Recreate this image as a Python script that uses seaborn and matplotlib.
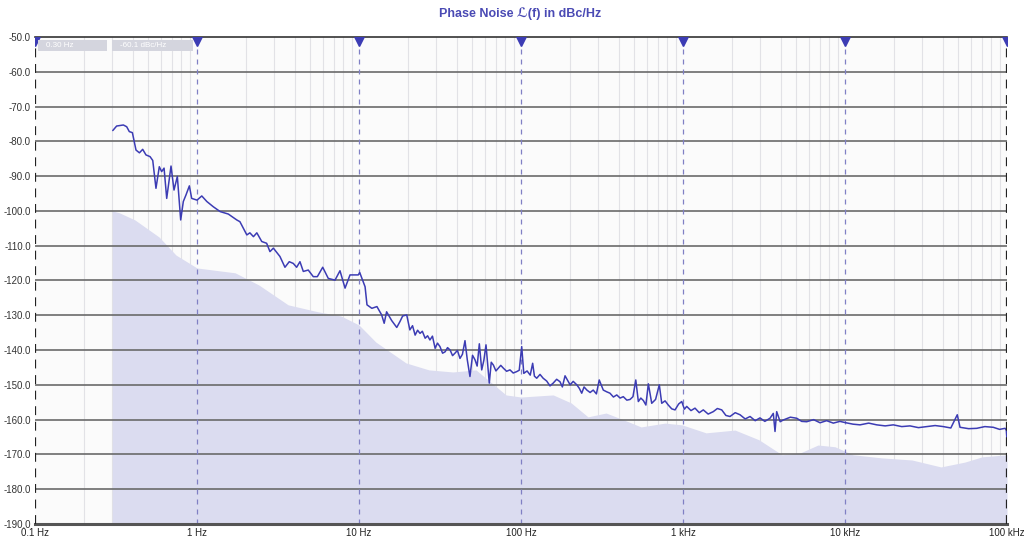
import numpy as np
import pandas as pd
import matplotlib
matplotlib.use("Agg")
import matplotlib.pyplot as plt
import matplotlib.patches as mpatches
import seaborn as sns

# measured phase noise trace (Hz, dBc/Hz)
freq_hz = [0.302, 0.319, 0.351, 0.368, 0.382, 0.399, 0.420, 0.441, 0.462, 0.484,
           0.513, 0.533, 0.558, 0.585, 0.605, 0.626, 0.650, 0.691, 0.721, 0.756,
           0.793, 0.823, 0.855, 0.897, 0.927, 1.00, 1.07, 1.15, 1.26, 1.39,
           1.56, 1.76, 1.84, 2.03, 2.12, 2.23, 2.34, 2.51, 2.69, 2.82,
           2.96, 3.25, 3.49, 3.71, 3.93, 4.12, 4.32, 4.53, 4.86, 5.22,
           5.53, 5.97, 6.46, 7.11, 7.63, 8.20, 8.80, 9.90, 10.1, 10.9,
           11.2, 12.0, 12.9, 13.8, 14.3, 14.8, 15.9, 17.1, 17.9, 18.6,
           19.7, 20.6, 21.4, 22.2, 23.0, 23.8, 24.6, 25.6, 26.5, 27.4,
           28.4, 29.5, 30.5, 31.6, 32.8, 34.0, 35.2, 36.5, 37.8, 39.1,
           40.5, 42.0, 43.5, 45.1, 46.6, 48.4, 50.2, 52.0, 53.6, 55.3,
           57.2, 59.0, 60.8, 62.2, 63.7, 65.5, 67.5, 70.0, 72.4, 75.0,
           77.8, 81.5, 85.5, 89.5, 94.0, 97.5, 101, 104, 109, 114,
           118, 121, 125, 131, 137, 144, 151, 158, 166, 174,
           180, 187, 201, 210, 221, 229, 237, 245, 255, 267,
           279, 292, 304, 322, 338, 354, 372, 390, 409, 428,
           450, 471, 491, 511, 530, 549, 569, 590, 611, 641,
           677, 714, 739, 775, 811, 852, 893, 940, 982, 1020,
           1054, 1120, 1186, 1260, 1334, 1430, 1538, 1630, 1734, 1840,
           1950, 2100, 2249, 2420, 2594, 2790, 2986, 3200, 3444, 3609,
           3698, 3787, 3980, 4159, 4600, 5035, 5400, 5803, 6400, 7015,
           7700, 8470, 9300, 10140, 11200, 12380, 14000, 15700, 17700, 19870,
           22400, 25180, 28400, 31930, 36000, 40460, 45000, 49320, 51290, 58000,
           65000, 73000, 82250, 90000, 97250, 99000, 100000]
noise_db = [-76.9, -75.6, -75.3, -75.8, -77.2, -77.5, -82.5, -83.3, -82.3, -83.9,
            -84.4, -85.5, -93.5, -87.3, -88.7, -87.7, -96.4, -87.1, -94.0, -90.1,
            -102.6, -97.3, -95.4, -92.8, -96.4, -96.9, -95.7, -97.3, -98.8, -100.2,
            -100.9, -102.6, -103.1, -106.9, -106.3, -107.4, -106.3, -108.8, -109.3, -111.7,
            -110.7, -113.1, -116.2, -114.6, -115.1, -116.2, -114.6, -117.4, -117.0, -118.9,
            -118.9, -116.2, -119.4, -119.9, -117.2, -122.2, -118.4, -118.4, -117.7, -121.8,
            -127.0, -128.0, -127.5, -129.9, -132.3, -129.0, -131.5, -133.5, -131.8, -130.2,
            -129.9, -134.2, -133.0, -135.7, -134.3, -135.2, -134.6, -136.6, -135.9, -137.1,
            -136.0, -139.5, -138.0, -139.0, -140.9, -140.5, -139.3, -140.0, -141.6, -140.9,
            -140.1, -142.4, -141.2, -137.3, -142.8, -147.6, -141.5, -142.8, -144.6, -138.2,
            -145.7, -142.9, -138.5, -144.0, -149.5, -143.5, -144.3, -146.0, -145.2, -144.4,
            -145.2, -146.1, -145.7, -146.6, -146.2, -145.8, -139.0, -146.7, -146.0, -147.2,
            -143.8, -147.5, -148.1, -147.0, -148.1, -148.9, -150.3, -149.5, -148.4, -149.1,
            -150.6, -147.4, -150.0, -149.0, -150.0, -151.0, -152.4, -150.6, -151.5, -152.2,
            -151.5, -152.6, -148.6, -151.5, -152.0, -152.4, -153.5, -152.9, -153.8, -153.4,
            -154.4, -154.2, -153.4, -148.6, -154.8, -153.8, -154.5, -155.8, -149.7, -155.3,
            -154.2, -150.0, -155.3, -154.6, -155.8, -156.9, -157.2, -155.5, -154.8, -157.0,
            -156.2, -157.4, -156.7, -158.0, -157.2, -158.4, -157.7, -156.8, -157.2, -158.8,
            -159.1, -158.0, -158.6, -159.8, -159.1, -160.3, -159.5, -160.5, -159.6, -158.2,
            -163.4, -157.7, -160.6, -160.1, -159.3, -159.6, -160.5, -160.6, -160.0, -160.9,
            -160.3, -161.0, -160.5, -160.9, -161.3, -161.5, -161.0, -161.5, -161.8, -161.5,
            -162.0, -161.8, -162.3, -162.0, -161.7, -162.0, -162.4, -158.6, -162.2, -162.6,
            -162.5, -162.0, -162.2, -162.8, -162.5, -163.0, -166.0]

# shaded reference curve
ref_freq = [0.30, 0.33, 0.414, 0.583, 0.742, 1.0, 1.72, 2.41, 3.65, 5.58,
            7.74, 10.0, 12.7, 19.5, 27.0, 38.0, 52.7, 68.1, 80.8, 100,
            158, 204, 259, 335, 432, 551, 774, 986, 1387, 2094,
            2945, 4084, 5277, 6813, 8673, 11200, 16900, 25900, 39100, 55000,
            70100, 100000]
ref_db = [-100.0, -100.5, -102.6, -107.5, -112.7, -116.4, -117.8, -121.3, -127.0, -129.0,
          -130.2, -132.8, -137.7, -143.7, -145.7, -146.3, -145.7, -150.0, -152.9, -153.5,
          -152.9, -155.2, -159.2, -158.1, -160.1, -162.1, -161.0, -161.5, -163.8, -163.0,
          -165.8, -170.1, -169.6, -167.3, -167.8, -170.1, -171.0, -171.6, -173.6, -172.2,
          -170.7, -170.1]

decades = [0.1, 1, 10, 100, 1000, 10000, 100000]
decade_labels = ["0.1 Hz", "1 Hz", "10 Hz", "100 Hz", "1 kHz", "10 kHz", "100 kHz"]
y_ticks = list(range(-50, -191, -10))
readouts = ["0.30 Hz", "-60.1 dBc/Hz"]

line_color = "#3c3cb4"
fill_color = "#dbdcf0"

sns.set_style("white")
plt.rcParams["font.family"] = ["Liberation Sans", "DejaVu Sans"]

fig = plt.figure(figsize=(10.24, 5.43), dpi=100)
ax = fig.add_axes([0.0342, 0.035, 0.9492, 0.8969])
ax.set_facecolor("#fbfbfb")
ax.set_xscale("log")
ax.set_xlim(0.1, 100000)
ax.set_ylim(-190, -50)

# minor vertical grid
minor = [m * d for d in decades[:-1] for m in range(2, 10)]
for x in minor:
    ax.axvline(x, color="#e2e2e6", lw=0.8, zorder=0)

ax.fill_between(ref_freq, ref_db, -190, color=fill_color, lw=0, zorder=1)

for y in y_ticks[1:-1]:
    ax.axhline(y, color="#6a6a6a", lw=1.2, zorder=2)

for x in decades[1:-1]:
    ax.axvline(x, color="#8080c4", lw=0.9, ls=(0, (4, 4)), zorder=2)
for x in (decades[0], decades[-1]):
    ax.axvline(x, color="#222222", lw=1.6, ls=(0, (4, 3)), zorder=4)

df = pd.DataFrame({"freq": freq_hz, "db": noise_db})
sns.lineplot(data=df, x="freq", y="db", ax=ax, color=line_color, lw=1.1,
             estimator=None, sort=False, zorder=3)

ax.plot(decades, [-50] * len(decades), ls="none", marker="v", ms=13,
        color=line_color, zorder=5)

for side in ("left", "right"):
    ax.spines[side].set_visible(False)
ax.spines["top"].set_color("#333333")
ax.spines["top"].set_linewidth(1.2)
ax.spines["bottom"].set_color("#555555")
ax.spines["bottom"].set_linewidth(2.2)

ax.set_xticks(decades)
ax.set_xticklabels(decade_labels, fontsize=7, color="#222222")
ax.minorticks_off()
ax.set_yticks(y_ticks)
ax.set_yticklabels([f"{v:.1f}" for v in y_ticks], fontsize=7, color="#333333")
ax.tick_params(axis="both", length=0, pad=3)
ax.set_xlabel("")
ax.set_ylabel("")

# readout boxes at the top left
box_x = [(0.003, 0.071), (0.079, 0.084)]
for (bx, bw), label in zip(box_x, readouts):
    ax.add_patch(mpatches.Rectangle((bx, 0.9713), bw, 0.0225, transform=ax.transAxes,
                                    fc="#d4d5de", ec="none", zorder=6))
    ax.text(bx + 0.008, 0.9825, label, transform=ax.transAxes, fontsize=5.8,
            color="white", va="center", ha="left", zorder=7)

fig.text(0.508, 0.974, "Phase Noise \u2112(f) in dBc/Hz", ha="center", va="center",
         fontsize=9, fontweight="bold", color="#4a4ab4")

fig.savefig("out.png", dpi=100, facecolor="white")
